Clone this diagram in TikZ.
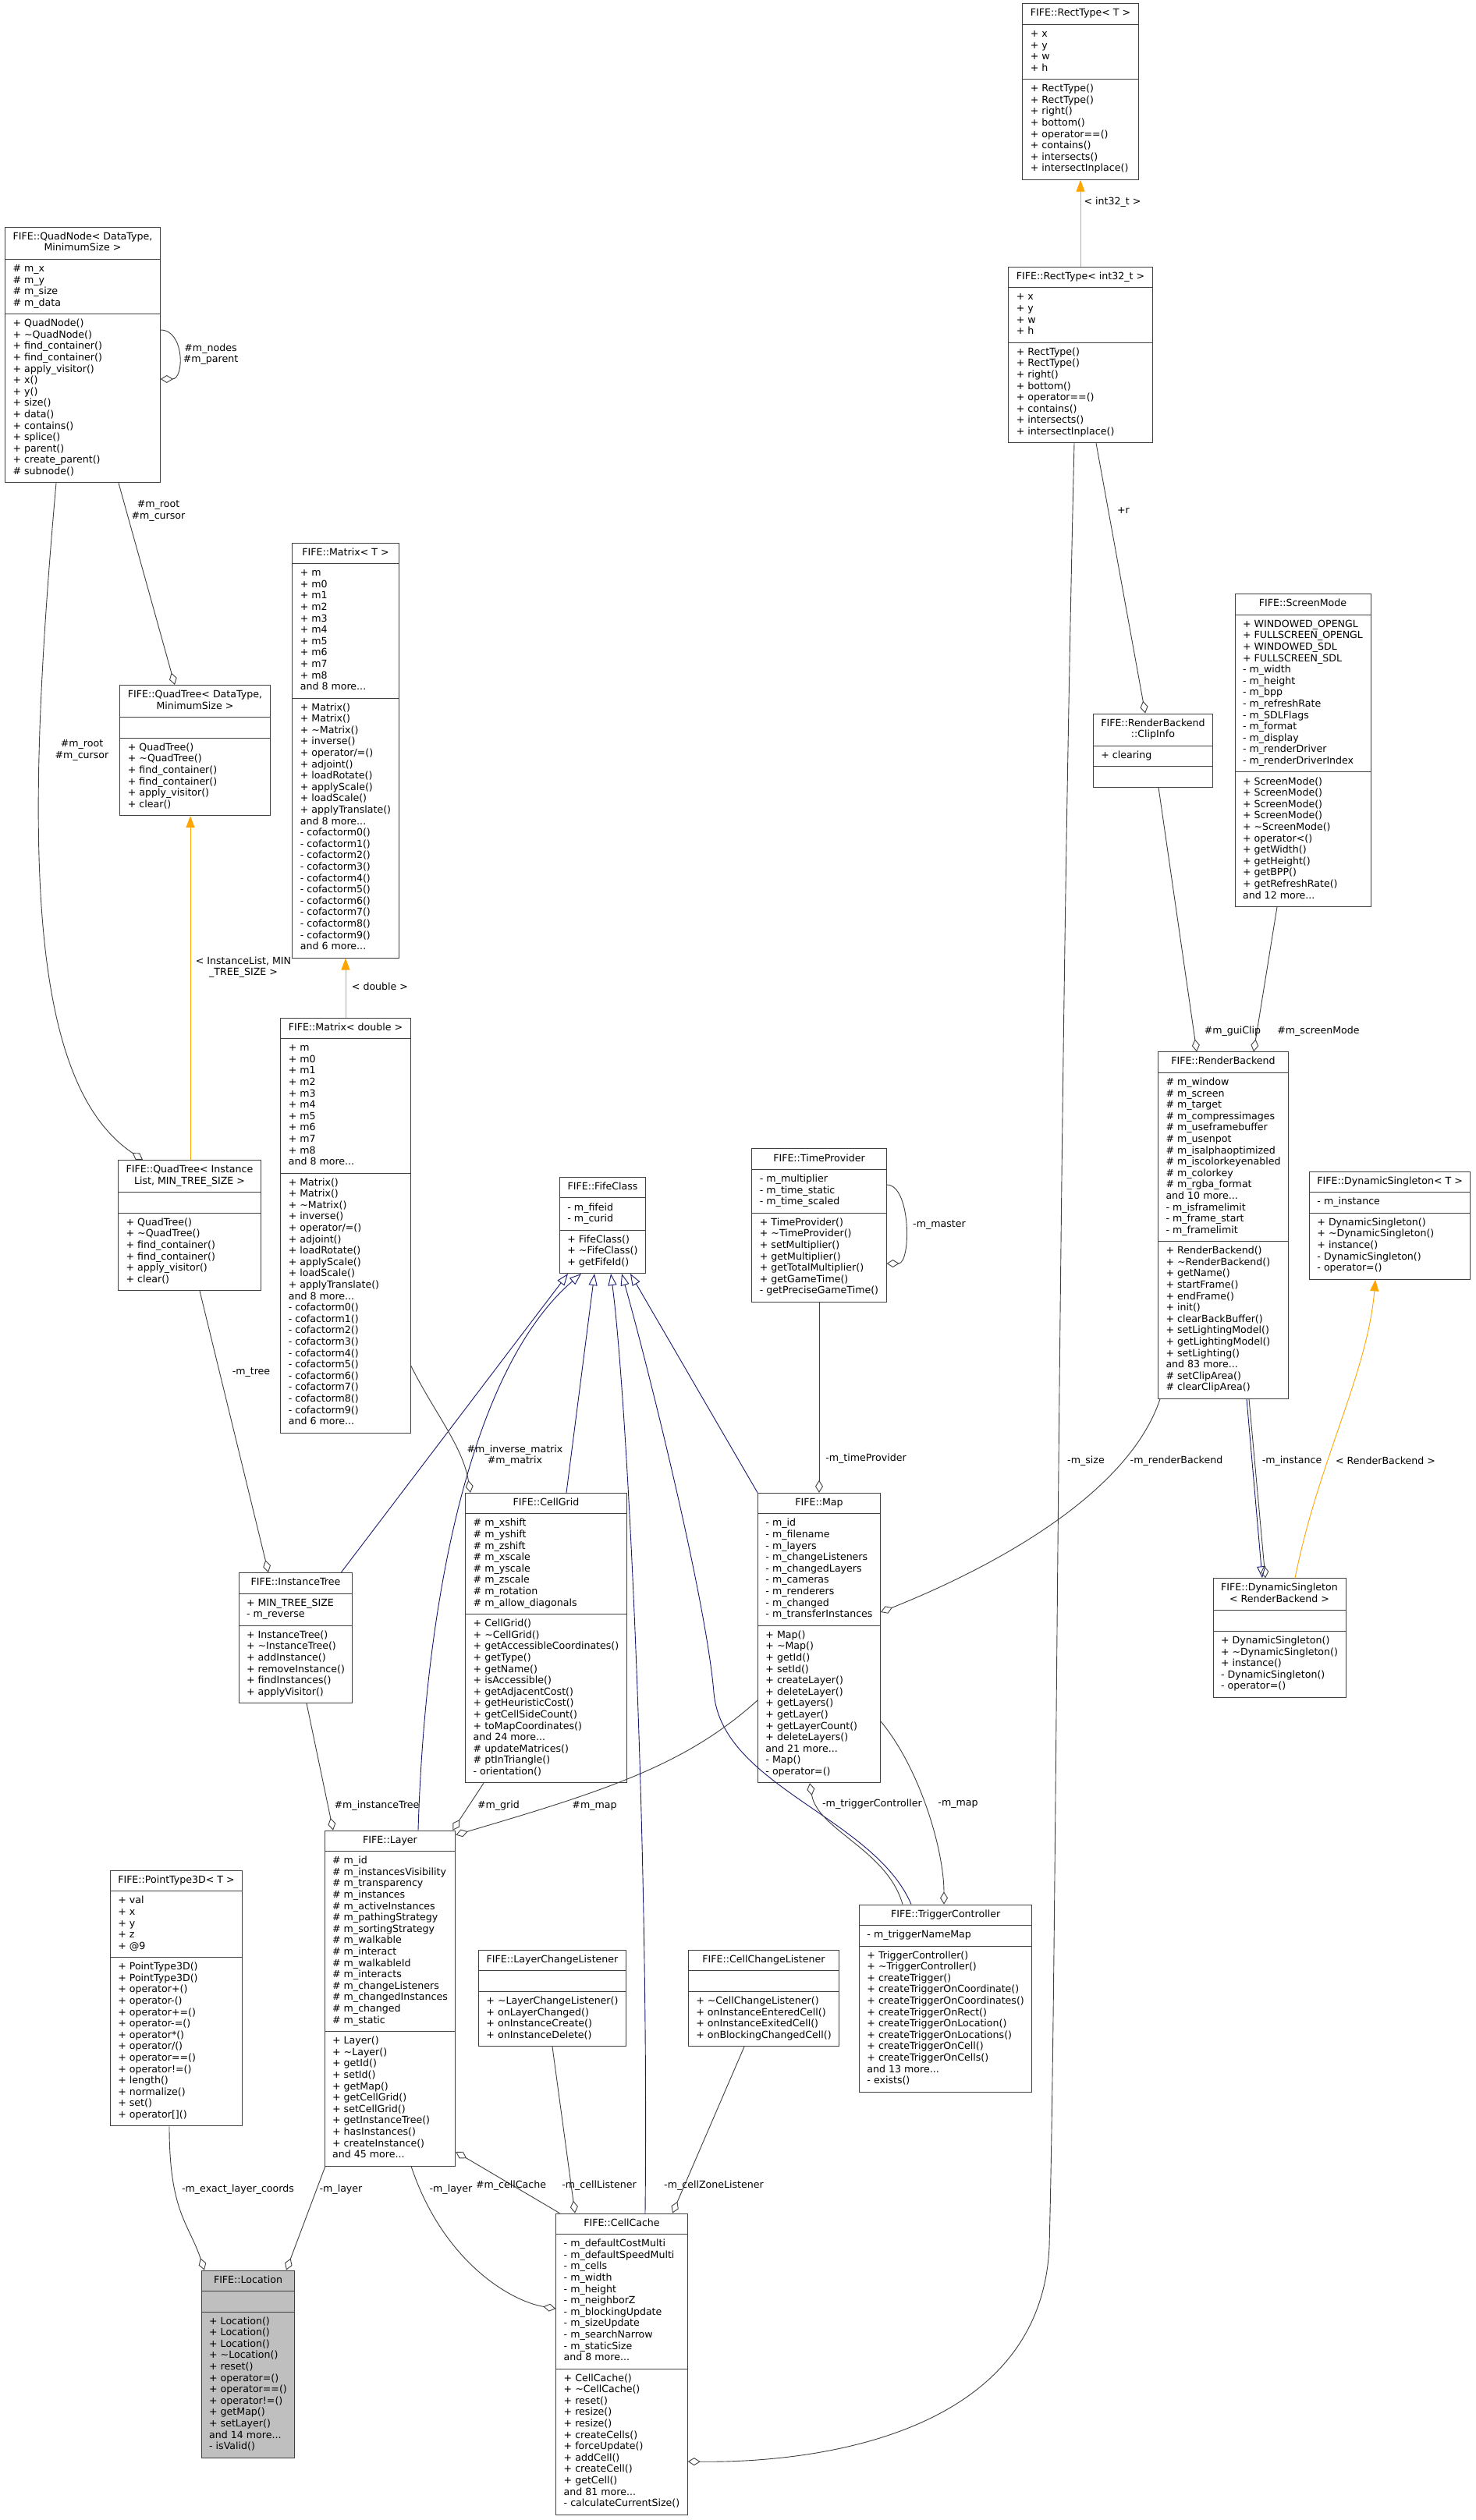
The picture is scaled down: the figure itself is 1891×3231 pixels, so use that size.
\documentclass[tikz,border=0pt]{standalone}
\usepackage{fontspec}
\setmainfont{DejaVu Sans}
\usepackage{tikz}
\usetikzlibrary{arrows.meta,shapes.multipart}
\definecolor{dxEdge}{HTML}{404040}
\definecolor{dxNavy}{HTML}{191970}
\definecolor{dxOrange}{HTML}{FFA500}
\definecolor{dxGray}{HTML}{BFBFBF}
\newcommand{\cpart}[1]{\strut#1\strut}
\newcommand{\ctitle}[2]{\begin{tabular}{@{}c@{}}#1\\#2\end{tabular}}
\newcommand{\tld}{\textasciitilde}

\begin{document}
\begin{tikzpicture}[
  x=1pt, y=-1pt,
  font=\fontsize{12.6}{14.6}\selectfont,
  cls/.style={
    rectangle split, rectangle split parts=3, draw=dxEdge, fill=white,
    line width=0.9pt, align=left, rectangle split part align={center,left,left},
    inner xsep=10pt, inner ysep=5.5pt
  },
  usage/.style={draw=dxEdge, line width=0.9pt, -{Diamond[open,length=16pt,width=10pt]}},
  inherit/.style={draw=dxNavy, line width=0.9pt, -{Triangle[open,length=15pt,width=11pt]}},
  templ/.style={draw=dxOrange, line width=0.9pt, -{Triangle[length=15pt,width=11pt]}},
  lbl/.style={align=center, inner sep=1pt}
]
\path[use as bounding box, fill=white] (0,0) rectangle (1891,3231);

% RectType
\node[cls] (rectT) at (1385,117.5)
  {\cpart{FIFE::RectType< T >}
   \nodepart{two}\cpart{+ x\\+ y\\+ w\\+ h}
   \nodepart{three}\cpart{+ RectType()\\+ RectType()\\+ right()\\+ bottom()\\+ operator==()\\+ contains()\\+ intersects()\\+ intersectInplace()}};
\node[cls] (rectI) at (1385,455)
  {\cpart{FIFE::RectType< int32\_t >}
   \nodepart{two}\cpart{+ x\\+ y\\+ w\\+ h}
   \nodepart{three}\cpart{+ RectType()\\+ RectType()\\+ right()\\+ bottom()\\+ operator==()\\+ contains()\\+ intersects()\\+ intersectInplace()}};

% QuadNode / QuadTree
\node[cls] (qNode) at (106,455)
  {\cpart{\ctitle{FIFE::QuadNode< DataType,}{MinimumSize >}}
   \nodepart{two}\cpart{\# m\_x\\\# m\_y\\\# m\_size\\\# m\_data}
   \nodepart{three}\cpart{+ QuadNode()\\+ \tld QuadNode()\\+ find\_container()\\+ find\_container()\\+ apply\_visitor()\\+ x()\\+ y()\\+ size()\\+ data()\\+ contains()\\+ splice()\\+ parent()\\+ create\_parent()\\\# subnode()}};
\node[cls] (qTreeDT) at (250,962)
  {\cpart{\ctitle{FIFE::QuadTree< DataType,}{MinimumSize >}}
   \nodepart{two}\cpart{}
   \nodepart{three}\cpart{+ QuadTree()\\+ \tld QuadTree()\\+ find\_container()\\+ find\_container()\\+ apply\_visitor()\\+ clear()}};
\node[cls] (qTreeIL) at (243,1571)
  {\cpart{\ctitle{FIFE::QuadTree< Instance}{List, MIN\_TREE\_SIZE >}}
   \nodepart{two}\cpart{}
   \nodepart{three}\cpart{+ QuadTree()\\+ \tld QuadTree()\\+ find\_container()\\+ find\_container()\\+ apply\_visitor()\\+ clear()}};

% Matrix
\node[cls] (matT) at (443,962)
  {\cpart{FIFE::Matrix< T >}
   \nodepart{two}\cpart{+ m\\+ m0\\+ m1\\+ m2\\+ m3\\+ m4\\+ m5\\+ m6\\+ m7\\+ m8\\and 8 more...}
   \nodepart{three}\cpart{+ Matrix()\\+ Matrix()\\+ \tld Matrix()\\+ inverse()\\+ operator/=()\\+ adjoint()\\+ loadRotate()\\+ applyScale()\\+ loadScale()\\+ applyTranslate()\\and 8 more...\\- cofactorm0()\\- cofactorm1()\\- cofactorm2()\\- cofactorm3()\\- cofactorm4()\\- cofactorm5()\\- cofactorm6()\\- cofactorm7()\\- cofactorm8()\\- cofactorm9()\\and 6 more...}};
\node[cls] (matD) at (443,1571)
  {\cpart{FIFE::Matrix< double >}
   \nodepart{two}\cpart{+ m\\+ m0\\+ m1\\+ m2\\+ m3\\+ m4\\+ m5\\+ m6\\+ m7\\+ m8\\and 8 more...}
   \nodepart{three}\cpart{+ Matrix()\\+ Matrix()\\+ \tld Matrix()\\+ inverse()\\+ operator/=()\\+ adjoint()\\+ loadRotate()\\+ applyScale()\\+ loadScale()\\+ applyTranslate()\\and 8 more...\\- cofactorm0()\\- cofactorm1()\\- cofactorm2()\\- cofactorm3()\\- cofactorm4()\\- cofactorm5()\\- cofactorm6()\\- cofactorm7()\\- cofactorm8()\\- cofactorm9()\\and 6 more...}};

% RenderBackend side
\node[cls] (clip) at (1478,962)
  {\cpart{\ctitle{FIFE::RenderBackend}{::ClipInfo}}
   \nodepart{two}\cpart{+ clearing}
   \nodepart{three}\cpart{}};
\node[cls] (scrMode) at (1670,962)
  {\cpart{FIFE::ScreenMode}
   \nodepart{two}\cpart{+ WINDOWED\_OPENGL\\+ FULLSCREEN\_OPENGL\\+ WINDOWED\_SDL\\+ FULLSCREEN\_SDL\\- m\_width\\- m\_height\\- m\_bpp\\- m\_refreshRate\\- m\_SDLFlags\\- m\_format\\- m\_display\\- m\_renderDriver\\- m\_renderDriverIndex}
   \nodepart{three}\cpart{+ ScreenMode()\\+ ScreenMode()\\+ ScreenMode()\\+ ScreenMode()\\+ \tld ScreenMode()\\+ operator<()\\+ getWidth()\\+ getHeight()\\+ getBPP()\\+ getRefreshRate()\\and 12 more...}};
\node[cls] (rBack) at (1568,1571)
  {\cpart{FIFE::RenderBackend}
   \nodepart{two}\cpart{\# m\_window\\\# m\_screen\\\# m\_target\\\# m\_compressimages\\\# m\_useframebuffer\\\# m\_usenpot\\\# m\_isalphaoptimized\\\# m\_iscolorkeyenabled\\\# m\_colorkey\\\# m\_rgba\_format\\and 10 more...\\- m\_isframelimit\\- m\_frame\_start\\- m\_framelimit}
   \nodepart{three}\cpart{+ RenderBackend()\\+ \tld RenderBackend()\\+ getName()\\+ startFrame()\\+ endFrame()\\+ init()\\+ clearBackBuffer()\\+ setLightingModel()\\+ getLightingModel()\\+ setLighting()\\and 83 more...\\\# setClipArea()\\\# clearClipArea()}};
\node[cls, anchor=west] (dynT) at (1678,1571)
  {\cpart{FIFE::DynamicSingleton< T >}
   \nodepart{two}\cpart{- m\_instance}
   \nodepart{three}\cpart{+ DynamicSingleton()\\+ \tld DynamicSingleton()\\+ instance()\\- DynamicSingleton()\\- operator=()}};
\node[cls] (dynRB) at (1640,2100)
  {\cpart{\ctitle{FIFE::DynamicSingleton}{< RenderBackend >}}
   \nodepart{two}\cpart{}
   \nodepart{three}\cpart{+ DynamicSingleton()\\+ \tld DynamicSingleton()\\+ instance()\\- DynamicSingleton()\\- operator=()}};

% FifeClass / TimeProvider
\node[cls, anchor=east] (fife) at (828,1571)
  {\cpart{FIFE::FifeClass}
   \nodepart{two}\cpart{- m\_fifeid\\- m\_curid}
   \nodepart{three}\cpart{+ FifeClass()\\+ \tld FifeClass()\\+ getFifeId()}};
\node[cls] (timeP) at (1050,1571)
  {\cpart{FIFE::TimeProvider}
   \nodepart{two}\cpart{- m\_multiplier\\- m\_time\_static\\- m\_time\_scaled}
   \nodepart{three}\cpart{+ TimeProvider()\\+ \tld TimeProvider()\\+ setMultiplier()\\+ getMultiplier()\\+ getTotalMultiplier()\\+ getGameTime()\\- getPreciseGameTime()}};

% InstanceTree / CellGrid / Map
\node[cls] (iTree) at (379,2100)
  {\cpart{FIFE::InstanceTree}
   \nodepart{two}\cpart{+ MIN\_TREE\_SIZE\\- m\_reverse}
   \nodepart{three}\cpart{+ InstanceTree()\\+ \tld InstanceTree()\\+ addInstance()\\+ removeInstance()\\+ findInstances()\\+ applyVisitor()}};
\node[cls] (cGrid) at (700,2100)
  {\cpart{FIFE::CellGrid}
   \nodepart{two}\cpart{\# m\_xshift\\\# m\_yshift\\\# m\_zshift\\\# m\_xscale\\\# m\_yscale\\\# m\_zscale\\\# m\_rotation\\\# m\_allow\_diagonals}
   \nodepart{three}\cpart{+ CellGrid()\\+ \tld CellGrid()\\+ getAccessibleCoordinates()\\+ getType()\\+ getName()\\+ isAccessible()\\+ getAdjacentCost()\\+ getHeuristicCost()\\+ getCellSideCount()\\+ toMapCoordinates()\\and 24 more...\\\# updateMatrices()\\\# ptInTriangle()\\- orientation()}};
\node[cls] (map) at (1050,2100)
  {\cpart{FIFE::Map}
   \nodepart{two}\cpart{- m\_id\\- m\_filename\\- m\_layers\\- m\_changeListeners\\- m\_changedLayers\\- m\_cameras\\- m\_renderers\\- m\_changed\\- m\_transferInstances}
   \nodepart{three}\cpart{+ Map()\\+ \tld Map()\\+ getId()\\+ setId()\\+ createLayer()\\+ deleteLayer()\\+ getLayers()\\+ getLayer()\\+ getLayerCount()\\+ deleteLayers()\\and 21 more...\\- Map()\\- operator=()}};

% Layer row
\node[cls] (pt3) at (226,2562)
  {\cpart{FIFE::PointType3D< T >}
   \nodepart{two}\cpart{+ val\\+ x\\+ y\\+ z\\+ @9}
   \nodepart{three}\cpart{+ PointType3D()\\+ PointType3D()\\+ operator+()\\+ operator-()\\+ operator+=()\\+ operator-=()\\+ operator*()\\+ operator/()\\+ operator==()\\+ operator!=()\\+ length()\\+ normalize()\\+ set()\\+ operator[]()}};
\node[cls] (layer) at (500,2562)
  {\cpart{FIFE::Layer}
   \nodepart{two}\cpart{\# m\_id\\\# m\_instancesVisibility\\\# m\_transparency\\\# m\_instances\\\# m\_activeInstances\\\# m\_pathingStrategy\\\# m\_sortingStrategy\\\# m\_walkable\\\# m\_interact\\\# m\_walkableId\\\# m\_interacts\\\# m\_changeListeners\\\# m\_changedInstances\\\# m\_changed\\\# m\_static}
   \nodepart{three}\cpart{+ Layer()\\+ \tld Layer()\\+ getId()\\+ setId()\\+ getMap()\\+ getCellGrid()\\+ setCellGrid()\\+ getInstanceTree()\\+ hasInstances()\\+ createInstance()\\and 45 more...}};
\node[cls] (lcl) at (708,2562)
  {\cpart{FIFE::LayerChangeListener}
   \nodepart{two}\cpart{}
   \nodepart{three}\cpart{+ \tld LayerChangeListener()\\+ onLayerChanged()\\+ onInstanceCreate()\\+ onInstanceDelete()}};
\node[cls] (ccl) at (979,2562)
  {\cpart{FIFE::CellChangeListener}
   \nodepart{two}\cpart{}
   \nodepart{three}\cpart{+ \tld CellChangeListener()\\+ onInstanceEnteredCell()\\+ onInstanceExitedCell()\\+ onBlockingChangedCell()}};
\node[cls, anchor=west] (trig) at (1101,2562)
  {\cpart{FIFE::TriggerController}
   \nodepart{two}\cpart{- m\_triggerNameMap}
   \nodepart{three}\cpart{+ TriggerController()\\+ \tld TriggerController()\\+ createTrigger()\\+ createTriggerOnCoordinate()\\+ createTriggerOnCoordinates()\\+ createTriggerOnRect()\\+ createTriggerOnLocation()\\+ createTriggerOnLocations()\\+ createTriggerOnCell()\\+ createTriggerOnCells()\\and 13 more...\\- exists()}};

% Location / CellCache
\node[cls, fill=dxGray] (loc) at (318,3031)
  {\cpart{FIFE::Location}
   \nodepart{two}\cpart{}
   \nodepart{three}\cpart{+ Location()\\+ Location()\\+ Location()\\+ \tld Location()\\+ reset()\\+ operator=()\\+ operator==()\\+ operator!=()\\+ getMap()\\+ setLayer()\\and 14 more...\\- isValid()}};
\node[cls] (cCache) at (797,3031)
  {\cpart{FIFE::CellCache}
   \nodepart{two}\cpart{- m\_defaultCostMulti\\- m\_defaultSpeedMulti\\- m\_cells\\- m\_width\\- m\_height\\- m\_neighborZ\\- m\_blockingUpdate\\- m\_sizeUpdate\\- m\_searchNarrow\\- m\_staticSize\\and 8 more...}
   \nodepart{three}\cpart{+ CellCache()\\+ \tld CellCache()\\+ reset()\\+ resize()\\+ resize()\\+ createCells()\\+ forceUpdate()\\+ addCell()\\+ createCell()\\+ getCell()\\and 81 more...\\- calculateCurrentSize()}};

% template instances
\draw[templ] (rectI.north) -- (rectT.south);
\draw[templ] (matD.north) -- (matT.south);
\draw[templ] ([xshift=1]qTreeIL.north) -- ([xshift=-6]qTreeDT.south);
\draw[templ] ([xshift=20]dynRB.north) .. controls +(30,-150) and +(-10,120) .. ([xshift=85]dynT.south west);

% inheritance
\draw[inherit] ([xshift=30]rBack.south) -- ([xshift=-22]dynRB.north);
\draw[inherit] ([xshift=-15]iTree.north east) -- ([xshift=-100]fife.south east);
\draw[inherit] ([xshift=36]layer.north) .. controls +(9,-300) and +(-140,120) .. ([xshift=-83]fife.south east);
\draw[inherit] ([xshift=26]cGrid.north) -- ([xshift=-66]fife.south east);
\draw[inherit] ([xshift=30]cCache.north) .. controls +(5,-500) and +(20,150) .. ([xshift=-45]fife.south east);
\draw[inherit] ([xshift=67]trig.north west) .. controls (1120,2330) and (925,2290) .. (915,2170)
  .. controls (905,2050) and (830,1750) .. ([xshift=-31]fife.south east);
\draw[inherit] (map.north west) -- ([xshift=-20]fife.south east);

% usage
\draw[usage] ([yshift=32]qNode.east) to[out=0,in=0,looseness=1.25] ([yshift=-31]qNode.east);
\draw[usage] ([xshift=46]qNode.south) -- ([xshift=-26]qTreeDT.north);
\draw[usage] ([xshift=-34]qNode.south) .. controls +(-40,450) and +(-150,-100) .. ([xshift=-60]qTreeIL.north);
\draw[usage] ([xshift=13]qTreeIL.south) -- ([xshift=-35]iTree.north);
\draw[usage] ([xshift=14]iTree.south) -- ([xshift=-73]layer.north);
\draw[usage] ([yshift=-180]matD.east) .. controls +(30,60) and +(-10,-60) .. ([xshift=-97]cGrid.north);
\draw[usage] ([xshift=-80]cGrid.south) -- ([xshift=-4]layer.north east);
\draw[usage] ([yshift=-80]map.west) .. controls (880,2262) and (780,2295) .. ([yshift=-6]layer.north east);
\draw[usage] ([yshift=52]timeP.east) to[out=0,in=0,looseness=0.8] ([yshift=-49]timeP.east);
\draw[usage] (timeP.south) -- (map.north);
\draw[usage] ([xshift=-81]rBack.south) .. controls +(-40,120) and +(150,-60) .. ([yshift=33]map.east);
\draw[usage] ([xshift=33]rBack.south) -- ([xshift=-18]dynRB.north);
\draw[usage] ([xshift=20]rectI.south) -- ([xshift=-10]clip.north);
\draw[usage] ([xshift=7]clip.south) -- ([xshift=-34]rBack.north);
\draw[usage] ([xshift=-33]scrMode.south) -- ([xshift=39]rBack.north);
\draw[usage] ([xshift=-8]rectI.south) .. controls (1355,1500) and (1355,2500) .. (1345,2880)
  .. controls (1335,3120) and (1050,3158) .. ([yshift=-125]cCache.east);
\draw[usage] ([yshift=-107]map.east) .. controls +(50,60) and +(0,-70) .. ([xshift=109]trig.north west);
\draw[usage] ([xshift=56]trig.north west) .. controls +(-20,-70) and +(10,60) .. ([xshift=-12]map.south);
\draw[usage] (lcl.south) -- ([xshift=-60]cCache.north);
\draw[usage] ([xshift=-25]ccl.south) -- ([xshift=65]cCache.north);
\draw[usage] ([xshift=5]cCache.north west) -- ([yshift=-197]layer.east);
\draw[usage] ([xshift=27]layer.south) .. controls +(40,120) and +(-60,-10) .. ([yshift=71]cCache.west);
\draw[usage] ([xshift=-9]pt3.south) .. controls +(0,110) and +(-20,-60) .. ([xshift=-56]loc.north);
\draw[usage] ([xshift=-83]layer.south) -- ([xshift=49]loc.north);

% edge labels
\node[lbl] (lInt) at (1426,259) {< int32\_t >};
\node[lbl] (lNodes) at (270,454) {\#m\_nodes\\\#m\_parent};
\node[lbl] (lRoot1) at (203,655) {\#m\_root\\\#m\_cursor};
\node[lbl] (lRoot2) at (105,962) {\#m\_root\\\#m\_cursor};
\node[lbl] (lDbl) at (487,1265) {< double >};
\node[lbl] (lIL) at (312,1240) {< InstanceList, MIN\\\_TREE\_SIZE >};
\node[lbl] (lTree) at (322,1760) {-m\_tree};
\node[lbl] (lMatrix) at (660,1866) {\#m\_inverse\_matrix\\\#m\_matrix};
\node[lbl] (lMaster) at (1204,1571) {-m\_master};
\node[lbl] (lTime) at (1110,1870) {-m\_timeProvider};
\node[lbl] (lSize) at (1392,1873) {-m\_size};
\node[lbl] (lRB) at (1508,1873) {-m\_renderBackend};
\node[lbl] (lInst) at (1656,1873) {-m\_instance};
\node[lbl] (lRBt) at (1776,1873) {< RenderBackend >};
\node[lbl] (lR) at (1440,655) {+r};
\node[lbl] (lGui) at (1580,1322) {\#m\_guiClip};
\node[lbl] (lScreen) at (1690,1322) {\#m\_screenMode};
\node[lbl] (lInstTree) at (483,2315) {\#m\_instanceTree};
\node[lbl] (lGrid) at (639,2315) {\#m\_grid};
\node[lbl] (lMap) at (762,2315) {\#m\_map};
\node[lbl] (lTrig) at (1118,2313) {-m\_triggerController};
\node[lbl] (lMapT) at (1228,2313) {-m\_map};
\node[lbl] (lExact) at (305,2807) {-m\_exact\_layer\_coords};
\node[lbl] (lLay1) at (437,2807) {-m\_layer};
\node[lbl] (lLay2) at (578,2807) {-m\_layer};
\node[lbl] (lCC) at (655,2802) {\#m\_cellCache};
\node[lbl] (lCL) at (768,2802) {-m\_cellListener};
\node[lbl] (lCZ) at (915,2802) {-m\_cellZoneListener};

\end{tikzpicture}
\end{document}
